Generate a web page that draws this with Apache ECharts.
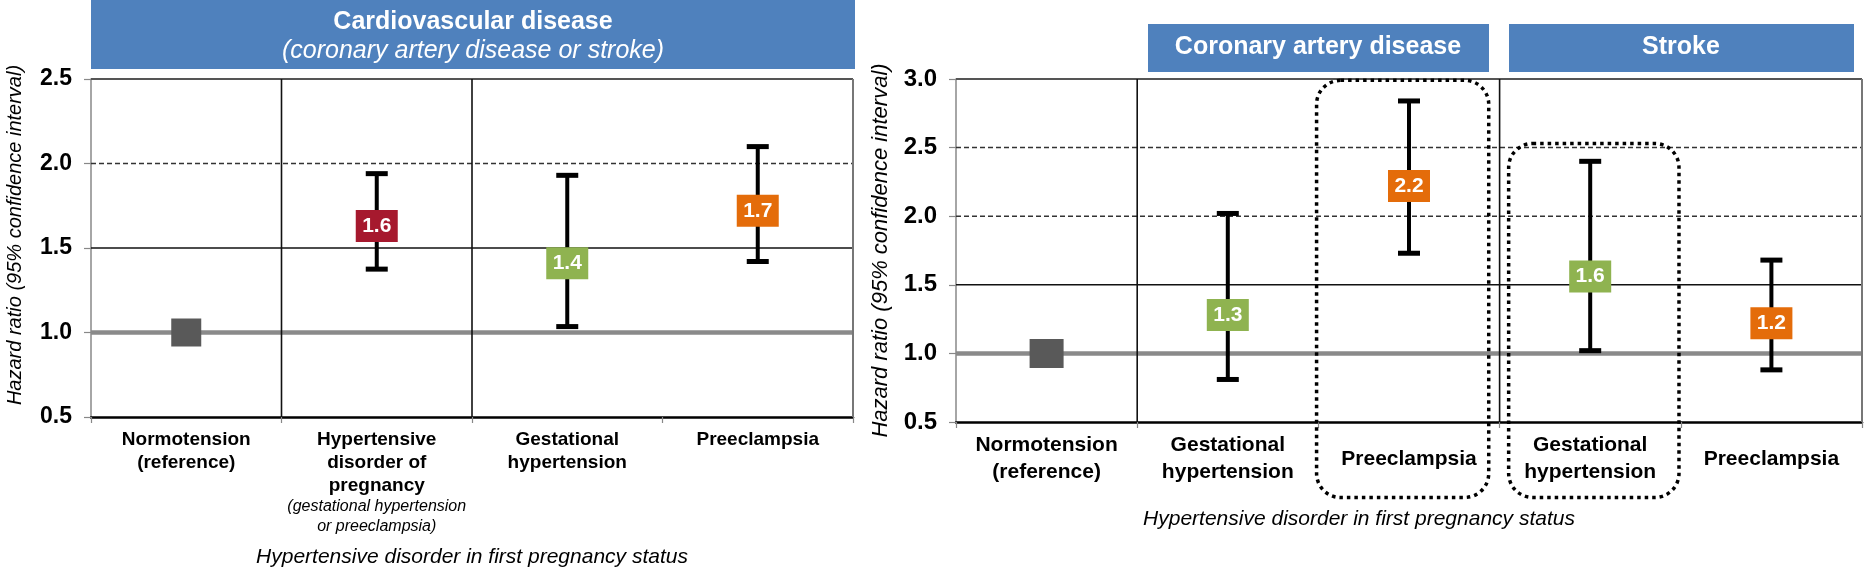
<!DOCTYPE html>
<html><head><meta charset="utf-8">
<script src="https://cdn.jsdelivr.net/npm/echarts@6/dist/echarts.min.js"></script>
<style>html,body{margin:0;padding:0;background:#fff;}#c{width:1864px;height:568px;}</style>
</head><body><div id="c"></div>
<script>
// ---------- data: left panel (Cardiovascular disease) ----------
const leftCategories = ['Normotension\n(reference)', 'Hypertensive\ndisorder of\npregnancy', 'Gestational\nhypertension', 'Preeclampsia'];
const leftNotes = ['', '(gestational hypertension\nor preeclampsia)', '', ''];
const leftHR = [1.0, 1.63, 1.41, 1.72];
const leftLow = [null, 1.375, 1.035, 1.42];
const leftHigh = [null, 1.94, 1.93, 2.10];
const leftHeader = ['Cardiovascular disease', '(coronary artery disease or stroke)'];
const leftYRange = [0.5, 2.5, 0.5];
const leftHLines = [2.5, 2.0, 1.5, 1.0];
const leftHKinds = ['border', 'dashed', 'solid', 'ref'];
const leftVLines = [1, 2, 4];
const leftVKinds = ['solid', 'solid', 'edge'];

// ---------- data: right panel (CAD / Stroke) ----------
const rightCategories = ['Normotension\n(reference)', 'Gestational\nhypertension', 'Preeclampsia', 'Gestational\nhypertension', 'Preeclampsia'];
const rightHR = [1.0, 1.28, 2.22, 1.56, 1.22];
const rightLow = [null, 0.81, 1.73, 1.02, 0.88];
const rightHigh = [null, 2.02, 2.84, 2.40, 1.68];
const rightGroups = ['Coronary artery disease', 'Stroke'];
const rightYRange = [0.5, 3.0, 0.5];
const rightHLines = [3.0, 2.5, 2.0, 1.5, 1.0];
const rightHKinds = ['border', 'dashed', 'dashed', 'solid', 'ref'];
const rightVLines = [1, 3, 5];
const rightVKinds = ['solid', 'solid', 'edge'];
// highlighted (dotted) regions: [xStart, xEnd, yTop, yBottom] in category-band / HR units
const rightHighlights = [[1.99, 2.94, 2.99, -0.05], [3.05, 3.99, 2.53, -0.05]];

const xTitle = 'Hypertensive disorder in first pregnancy status';
const yTitle = 'Hazard ratio (95% confidence interval)';

// ---------- styles ----------
const FONT = "'Liberation Sans', Arial, sans-serif";
const BLUE = '#4f81bd';
const GREY = '#595959', RED = '#a6192e', GREEN = '#8fb350', ORANGE = '#e46c0a';
const leftColors = [GREY, RED, GREEN, ORANGE];
const rightColors = [GREY, GREEN, ORANGE, GREEN, ORANGE];
const lineStyles = {
  border: {stroke: '#555', lineWidth: 2},
  dashed: {stroke: '#333', lineWidth: 1.5, lineDash: [5, 3]},
  solid: {stroke: '#111', lineWidth: 1.6},
  ref: {stroke: '#8a8a8a', lineWidth: 4.5},
  edge: {stroke: '#777', lineWidth: 2}
};

function hLineRender(kinds) {
  return function (params, api) {
    const cs = params.coordSys;
    const y = api.coord([0, api.value(0)])[1];
    return {type: 'line', shape: {x1: cs.x, y1: y, x2: cs.x + cs.width, y2: y}, style: lineStyles[kinds[params.dataIndex]]};
  };
}
function vLineRender(kinds) {
  return function (params, api) {
    const cs = params.coordSys;
    const x = api.coord([api.value(0), 1])[0];
    return {type: 'line', shape: {x1: x, y1: cs.y, x2: x, y2: cs.y + cs.height}, style: lineStyles[kinds[params.dataIndex]]};
  };
}
function errRender(params, api) {
  const x = api.value(0);
  const pLo = api.coord([x, api.value(1)]);
  const pHi = api.coord([x, api.value(2)]);
  const cap = 11;
  return {type: 'group', children: [
    {type: 'line', shape: {x1: pLo[0], y1: pLo[1], x2: pHi[0], y2: pHi[1]}, style: {stroke: '#000', lineWidth: 4}},
    {type: 'line', shape: {x1: pLo[0] - cap, y1: pLo[1], x2: pLo[0] + cap, y2: pLo[1]}, style: {stroke: '#000', lineWidth: 5}},
    {type: 'line', shape: {x1: pHi[0] - cap, y1: pHi[1], x2: pHi[0] + cap, y2: pHi[1]}, style: {stroke: '#000', lineWidth: 5}}
  ]};
}
function boxRender(params, api) {
  const p0 = api.coord([api.value(0), api.value(2)]);
  const p1 = api.coord([api.value(1), api.value(3)]);
  return {type: 'rect', shape: {x: p0[0], y: p0[1], width: p1[0] - p0[0], height: p1[1] - p0[1], r: 24},
    style: {fill: 'none', stroke: '#000', lineWidth: 3.5, lineDash: [3.5, 4]}};
}
function errData(low, high) {
  const out = [];
  low.forEach((l, i) => { if (l != null) out.push([i, l, high[i]]); });
  return out;
}
function markerData(hr, colors, refSize) {
  return hr.map((v, i) => ({
    value: [i, v],
    symbol: 'rect',
    symbolSize: i === 0 ? refSize : [42, 32],
    itemStyle: {color: colors[i], opacity: 1},
    label: {show: i > 0}
  }));
}
function yAxisCfg(grid, range, fs, gap, nfs, npad) {
  return {
    gridIndex: grid, type: 'value', min: range[0], max: range[1], interval: range[2],
    axisLine: {show: true, lineStyle: {color: '#888', width: 1.5}},
    axisTick: {show: true, length: 7, lineStyle: {color: '#888', width: 1.2}},
    splitLine: {show: false},
    axisLabel: {fontSize: fs, fontWeight: 'bold', color: '#000', margin: 19, fontFamily: FONT, formatter: v => v.toFixed(1)},
    name: yTitle, nameLocation: 'middle', nameGap: gap,
    nameTextStyle: {fontStyle: 'italic', fontSize: nfs, color: '#000', fontFamily: FONT, padding: npad}
  };
}

const chart = echarts.init(document.getElementById('c'), null, {renderer: 'canvas'});
const markerLabel = {position: 'inside', color: '#fff', fontWeight: 'bold', fontSize: 21, fontFamily: FONT, formatter: p => p.value[1].toFixed(1)};
const option = {
  backgroundColor: '#fff',
  animation: false,
  textStyle: {fontFamily: FONT},
  grid: [
    {left: 91, top: 79, width: 762, height: 338, containLabel: false, outerBoundsMode: 'none'},
    {left: 956, top: 79, width: 906, height: 343, containLabel: false, outerBoundsMode: 'none'}
  ],
  xAxis: [
    {
      gridIndex: 0, type: 'category', data: leftCategories, boundaryGap: true,
      axisLine: {lineStyle: {color: '#000', width: 2.5}},
      axisTick: {show: true, length: 6, lineStyle: {color: '#888', width: 1.2}},
      axisLabel: {
        interval: 0, margin: 11, color: '#000',
        formatter: (v, i) => {
          let s = v.split('\n').map(t => '{b|' + t + '}').join('\n');
          if (leftNotes[i]) s += '\n' + leftNotes[i].split('\n').map(t => '{s|' + t + '}').join('\n');
          return s;
        },
        rich: {
          b: {fontWeight: 'bold', fontSize: 19, lineHeight: 23, color: '#000', fontFamily: FONT},
          s: {fontStyle: 'italic', fontSize: 16, lineHeight: 20, color: '#000', fontFamily: FONT}
        }
      },
      name: xTitle, nameLocation: 'middle', nameGap: 130,
      nameTextStyle: {fontStyle: 'italic', fontSize: 21, color: '#000', fontFamily: FONT}
    },
    {gridIndex: 0, type: 'value', min: 0, max: leftCategories.length, show: false},
    {
      gridIndex: 1, type: 'category', data: rightCategories, boundaryGap: true,
      axisLine: {lineStyle: {color: '#000', width: 2.5}},
      axisTick: {show: true, length: 6, lineStyle: {color: '#888', width: 1.2}},
      axisLabel: {
        interval: 0, margin: 10, color: '#000',
        formatter: v => v.indexOf('\n') < 0 ? '{p|' + v + '}' : v.split('\n').map(t => '{b|' + t + '}').join('\n'),
        rich: {
          b: {fontWeight: 'bold', fontSize: 21, lineHeight: 27, color: '#000', fontFamily: FONT},
          p: {fontWeight: 'bold', fontSize: 21, lineHeight: 54, color: '#000', fontFamily: FONT}
        }
      },
      name: xTitle, nameLocation: 'middle', nameGap: 87,
      nameTextStyle: {fontStyle: 'italic', fontSize: 21, color: '#000', fontFamily: FONT, padding: [0, 100, 0, 0]}
    },
    {gridIndex: 1, type: 'value', min: 0, max: rightCategories.length, show: false}
  ],
  yAxis: [
    yAxisCfg(0, leftYRange, 23, 66, 20, [0, 0, 0, 26]),
    yAxisCfg(1, rightYRange, 24, 64, 22, [0, 0, 0, 0])
  ],
  series: [
    // left panel
    {type: 'custom', xAxisIndex: 1, yAxisIndex: 0, z: 1, silent: true, data: leftHLines.map(v => [v]), renderItem: hLineRender(leftHKinds), encode: {y: 0}},
    {type: 'custom', xAxisIndex: 1, yAxisIndex: 0, z: 1, silent: true, data: leftVLines.map(v => [v]), renderItem: vLineRender(leftVKinds), encode: {x: 0}},
    {type: 'custom', xAxisIndex: 0, yAxisIndex: 0, z: 4, data: errData(leftLow, leftHigh), renderItem: errRender, encode: {x: 0, y: [1, 2]}},
    {type: 'scatter', xAxisIndex: 0, yAxisIndex: 0, z: 5, data: markerData(leftHR, leftColors, [30, 28]), label: markerLabel, emphasis: {disabled: true}},
    // right panel
    {type: 'custom', xAxisIndex: 3, yAxisIndex: 1, z: 1, silent: true, data: rightHLines.map(v => [v]), renderItem: hLineRender(rightHKinds), encode: {y: 0}},
    {type: 'custom', xAxisIndex: 3, yAxisIndex: 1, z: 1, silent: true, data: rightVLines.map(v => [v]), renderItem: vLineRender(rightVKinds), encode: {x: 0}},
    {type: 'custom', xAxisIndex: 3, yAxisIndex: 1, z: 3, silent: true, clip: false, data: rightHighlights, renderItem: boxRender, encode: {x: [0, 1], y: [2, 3]}},
    {type: 'custom', xAxisIndex: 2, yAxisIndex: 1, z: 4, data: errData(rightLow, rightHigh), renderItem: errRender, encode: {x: 0, y: [1, 2]}},
    {type: 'scatter', xAxisIndex: 2, yAxisIndex: 1, z: 5, data: markerData(rightHR, rightColors, [34, 29]), label: markerLabel, emphasis: {disabled: true}}
  ],
  graphic: [
    {type: 'rect', left: 91, top: 0, shape: {width: 764, height: 69}, style: {fill: BLUE}, z: 10},
    {type: 'text', x: 473, y: 22, style: {text: leftHeader[0], fill: '#fff', fontSize: 25, fontWeight: 'bold', fontFamily: FONT, align: 'center', verticalAlign: 'middle'}, z: 11},
    {type: 'text', x: 473, y: 51, style: {text: leftHeader[1], fill: '#fff', fontSize: 25, fontStyle: 'italic', fontFamily: FONT, align: 'center', verticalAlign: 'middle'}, z: 11},
    {type: 'rect', left: 1148, top: 24, shape: {width: 341, height: 48}, style: {fill: BLUE}, z: 10},
    {type: 'text', x: 1318, y: 47, style: {text: rightGroups[0], fill: '#fff', fontSize: 25, fontWeight: 'bold', fontFamily: FONT, align: 'center', verticalAlign: 'middle'}, z: 11},
    {type: 'rect', left: 1509, top: 24, shape: {width: 345, height: 48}, style: {fill: BLUE}, z: 10},
    {type: 'text', x: 1681, y: 47, style: {text: rightGroups[1], fill: '#fff', fontSize: 25, fontWeight: 'bold', fontFamily: FONT, align: 'center', verticalAlign: 'middle'}, z: 11}
  ]
};
chart.setOption(option);
</script>
</body></html>
